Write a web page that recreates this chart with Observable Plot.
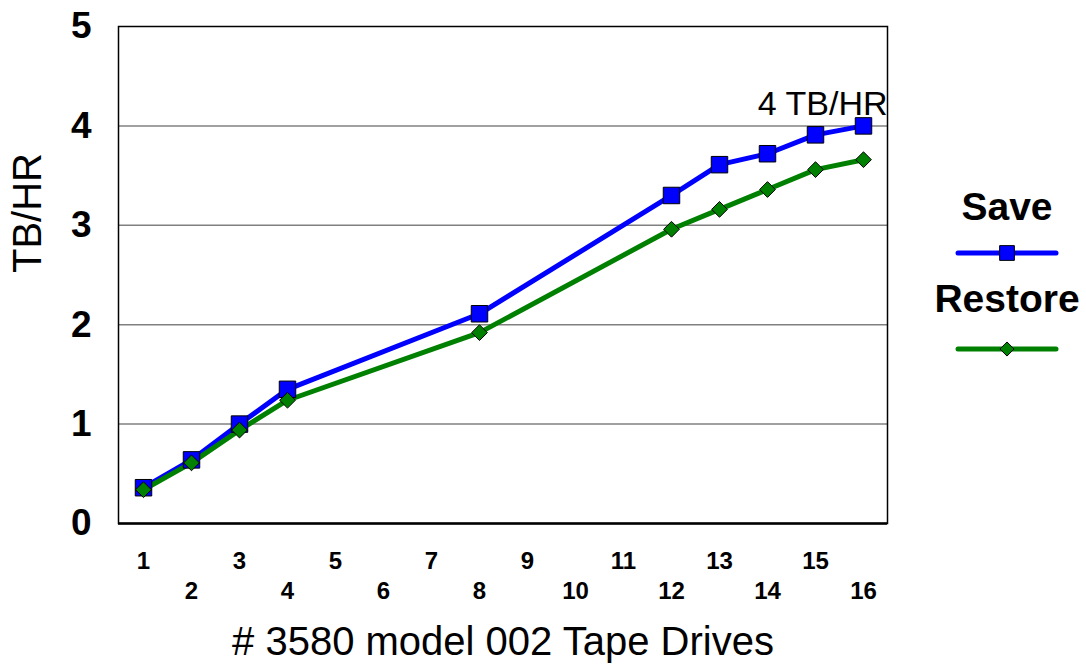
<!DOCTYPE html>
<html><head><meta charset="utf-8">
<script src="https://cdn.jsdelivr.net/npm/d3@7"></script>
<script src="https://cdn.jsdelivr.net/npm/@observablehq/plot@0.6"></script>
<style>
body{margin:0;background:#fff;font-family:"Liberation Sans",Arial,sans-serif;}
#wrap{position:relative;width:1086px;height:667px;overflow:hidden;}
#legend{position:absolute;left:930px;top:0;}
</style></head><body>
<div id="wrap"><div id="chart"></div><svg id="legend" width="156" height="400"></svg></div>
<script>
const drives = ["1","2","3","4","5","6","7","8","9","10","11","12","13","14","15","16"];
const oddTicks = ["1","3","5","7","9","11","13","15"];
const evenTicks = ["2","4","6","8","10","12","14","16"];
const measured = ["1","2","3","4","8","12","13","14","15","16"];
const saveTB = [0.36,0.64,1.00,1.35,2.11,3.30,3.61,3.72,3.91,4.00];
const restoreTB = [0.34,0.61,0.94,1.24,1.92,2.96,3.16,3.36,3.56,3.66];
const yTicks = [0,1,2,3,4,5];
const gridY = [1,2,3,4];
const seriesNames = ["Save","Restore"];
const seriesColors = ["#0000ff","#008000"];
const annotation = [{drives:"16", tb:4, label:"4 TB/HR"}];

const saveData = measured.map((d,i)=>({drives:d, tb:saveTB[i]}));
const restoreData = measured.map((d,i)=>({drives:d, tb:restoreTB[i]}));

const chart = Plot.plot({
  width:1086, height:667,
  marginLeft:118, marginRight:199, marginTop:26, marginBottom:144,
  style:{fontFamily:"'Liberation Sans', Arial, sans-serif", background:"#fff", color:"#000"},
  x:{type:"point", domain:drives, padding:0.5, label:null},
  y:{domain:[0,5], label:null},
  marks:[
    Plot.ruleY(gridY, {stroke:"#808080", strokeWidth:1.5}),
    Plot.frame({stroke:"#000", strokeWidth:1.5}),
    Plot.ruleY([0], {stroke:"#000", strokeWidth:2.5}),
    Plot.axisY(yTicks, {tickSize:0, tickPadding:27, fontSize:37, fontWeight:"bold", tickFormat:"d", label:null}),
    Plot.axisX(oddTicks, {tickSize:0, tickPadding:28, fontSize:24, fontWeight:"bold", label:null}),
    Plot.axisX(evenTicks, {tickSize:0, tickPadding:58, fontSize:24, fontWeight:"bold", label:null}),
    Plot.text(["TB/HR"], {frameAnchor:"left", rotate:-90, dx:-90, dy:-2, fontSize:40}),
    Plot.text(["# 3580 model 002 Tape Drives"], {frameAnchor:"bottom", dy:119, fontSize:40, lineAnchor:"middle"}),
    Plot.line(saveData, {x:"drives", y:"tb", stroke:seriesColors[0], strokeWidth:5}),
    Plot.line(restoreData, {x:"drives", y:"tb", stroke:seriesColors[1], strokeWidth:5}),
    Plot.dot(saveData, {x:"drives", y:"tb", symbol:"square", r:9.3, fill:seriesColors[0], stroke:"#000", strokeWidth:1}),
    Plot.dot(restoreData, {x:"drives", y:"tb", symbol:"diamond2", r:7.1, fill:seriesColors[1], stroke:"#000", strokeWidth:1}),
    Plot.text(annotation, {x:"drives", y:"tb", text:"label", textAnchor:"end", dx:24, dy:-22, fontSize:34})
  ]
});
document.getElementById("chart").append(chart);

// legend
const lg = d3.select("#legend").style("font-family","'Liberation Sans', Arial, sans-serif");
const cx = 77;
const symbols = [d3.symbolSquare, d3.symbolDiamond2];
const sizes = [9.3*9.3*Math.PI, 7.1*7.1*Math.PI];
seriesNames.forEach((name,i)=>{
  const ty = 206 + i*92, ly = 253 + i*96;
  lg.append("text").attr("x",cx).attr("y",ty).attr("text-anchor","middle").attr("dy","0.35em")
    .attr("font-size",39).attr("font-weight","bold").text(name);
  lg.append("line").attr("x1",cx-49).attr("x2",cx+49).attr("y1",ly).attr("y2",ly)
    .attr("stroke",seriesColors[i]).attr("stroke-width",5).attr("stroke-linecap","round");
  lg.append("path").attr("d", d3.symbol(symbols[i], sizes[i]*0.8)()).attr("transform",`translate(${cx},${ly})`)
    .attr("fill",seriesColors[i]).attr("stroke","#000");
});
</script>
</body></html>
